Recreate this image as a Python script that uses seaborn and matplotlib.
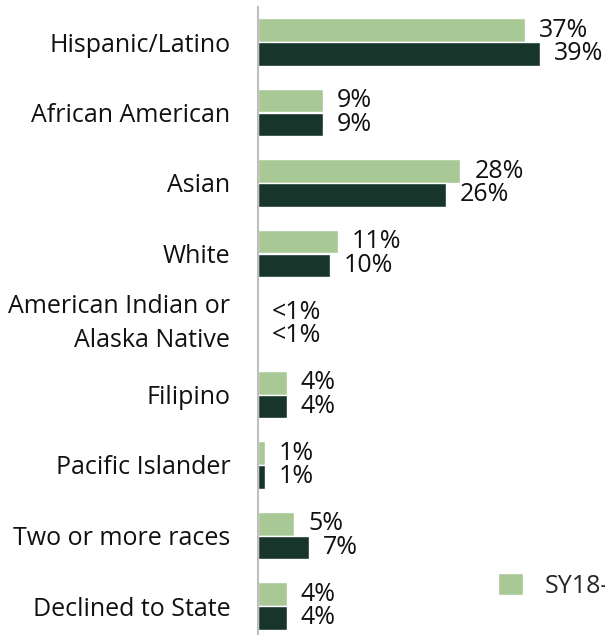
import matplotlib
matplotlib.use("Agg")
import matplotlib.pyplot as plt
import matplotlib.transforms as mtransforms
import pandas as pd
import seaborn as sns
from matplotlib.patches import Patch

# ── Data ──────────────────────────────────────────────────────────────────────
categories = [
    "Hispanic/Latino",
    "African American",
    "Asian",
    "White",
    "American Indian or\nAlaska Native",
    "Filipino",
    "Pacific Islander",
    "Two or more races",
    "Declined to State",
]
years = ["SY18-19", "SY19-20"]
sy1819 = [37, 9, 28, 11, 0, 4, 1, 5, 4]
sy1920 = [39, 9, 26, 10, 0, 4, 1, 7, 4]
labels_1819 = ["37%", "9%", "28%", "11%", "<1%", "4%", "1%", "5%", "4%"]
labels_1920 = ["39%", "9%", "26%", "10%", "<1%", "4%", "1%", "7%", "4%"]

LIGHT = "#A8C896"
DARK = "#17352B"
FS = 18

df = pd.DataFrame({
    "category": categories * 2,
    "year": [years[0]] * len(categories) + [years[1]] * len(categories),
    "pct": sy1819 + sy1920,
})

sns.set_theme(style="white")
plt.rcParams["font.family"] = ["Open Sans", "DejaVu Sans"]

fig = plt.figure(figsize=(6.05, 6.35), dpi=100)
ax = fig.add_axes([258 / 605, 1 - 641.25 / 635, 1 - 258 / 605, (641.25 - 6.75) / 635])

sns.barplot(
    data=df, x="pct", y="category", hue="year", order=categories,
    hue_order=years, palette=[LIGHT, DARK], orient="h", width=0.68,
    saturation=1, legend=False, ax=ax,
)

for cont, labs in zip(ax.containers, [labels_1819, labels_1920]):
    ax.bar_label(cont, labels=labs, padding=10, fontsize=FS, color="#111111")

ax.set_xlim(0, 48)
ax.set_ylim(len(categories) - 0.5, -0.5)
ax.set_xlabel("")
ax.set_ylabel("")
ax.set_xticks([])
ax.tick_params(axis="y", length=0, pad=20, labelsize=FS, labelcolor="#111111")
# two-line label sits a bit high in the original
nudge = mtransforms.ScaledTranslation(0, 8 / 100, fig.dpi_scale_trans)
for lab in ax.get_yticklabels():
    lab.set_horizontalalignment("right")
    lab.set_multialignment("right")
    lab.set_linespacing(1.45)
    if "\n" in lab.get_text():
        lab.set_transform(lab.get_transform() + nudge)

for side in ["top", "right", "bottom"]:
    ax.spines[side].set_visible(False)
ax.spines["left"].set_color("#BFBFBF")
ax.spines["left"].set_linewidth(1.5)

handles = [Patch(facecolor=LIGHT), Patch(facecolor=DARK)]
fig.legend(
    handles, years, loc="upper left", bbox_to_anchor=(498 / 605, 1 - 573 / 635),
    frameon=False, fontsize=FS, handlelength=1.0, handleheight=1.0,
    handletextpad=0.85, borderpad=0, borderaxespad=0, labelspacing=2.5,
)

fig.savefig("out.png", dpi=100)
